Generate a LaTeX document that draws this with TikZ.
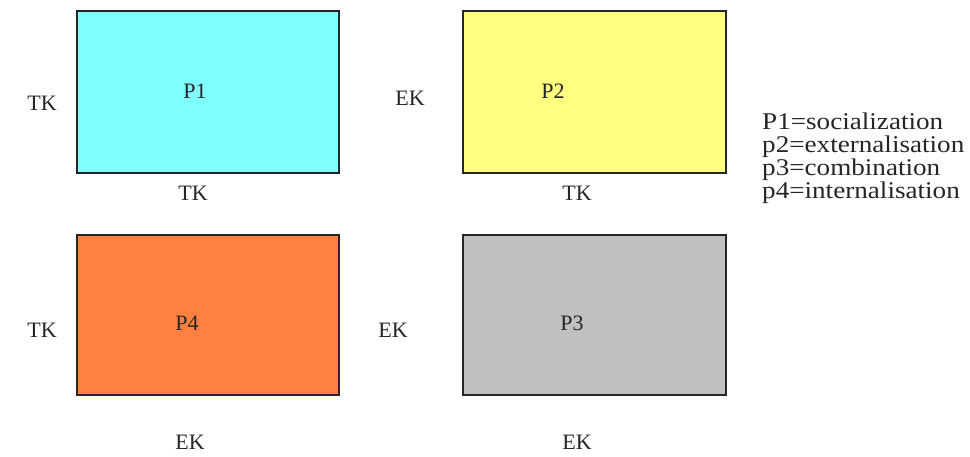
\documentclass[tikz,border=0pt]{standalone}
\usepackage{fontspec}
\setmainfont{Liberation Serif}
\definecolor{cP1}{HTML}{80FFFF}
\definecolor{cP2}{HTML}{FFFF80}
\definecolor{cP4}{HTML}{FF8040}
\definecolor{cP3}{HTML}{C0C0C0}
\begin{document}
\begin{tikzpicture}[x=1bp,y=-1bp,
  quad/.style={draw=black!85,line width=1.3bp},
  lbl/.style={inner sep=0pt,font=\fontsize{22bp}{23bp}\selectfont,text=black!85}]
\useasboundingbox (0,0) rectangle (970,457);
\fill[white] (0,0) rectangle (970,457);
% boxes
\filldraw[quad,fill=cP1] (77,11) rectangle (339,173);
\filldraw[quad,fill=cP2] (463,11) rectangle (726,173);
\filldraw[quad,fill=cP4] (77,235) rectangle (339,395);
\filldraw[quad,fill=cP3] (463,235) rectangle (726,395);
% labels
\node[lbl] (p1) at (195,91) {P1};
\node[lbl] (p2) at (553,91) {P2};
\node[lbl] (p4) at (187,323) {P4};
\node[lbl] (p3) at (572,323) {P3};
\node[lbl] (tk1) at (42,103) {TK};
\node[lbl] (ek1) at (410,98) {EK};
\node[lbl] (tk2) at (193,193) {TK};
\node[lbl] (tk3) at (577,193) {TK};
\node[lbl] (tk4) at (42,330) {TK};
\node[lbl] (ek2) at (393,330) {EK};
\node[lbl] (ek3) at (190,442) {EK};
\node[lbl] (ek4) at (577,442) {EK};
\node[lbl,anchor=north west,align=left,xscale=1.13,font=\fontsize{24bp}{22.8bp}\selectfont] (legend) at (762,113)
  {P1=socialization\\p2=externalisation\\p3=combination\\p4=internalisation};
\end{tikzpicture}
\end{document}
